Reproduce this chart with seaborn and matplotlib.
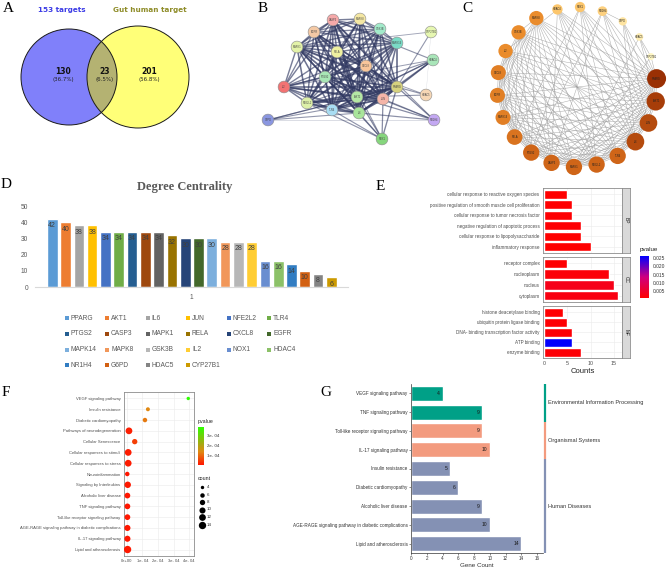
import numpy as np
import pandas as pd
import matplotlib
matplotlib.use("Agg")
import matplotlib.pyplot as plt
import seaborn as sns
from matplotlib.patches import Circle, Rectangle
from matplotlib.colors import LinearSegmentedColormap, Normalize
from matplotlib.cm import ScalarMappable

# ==============================
# DATA
# ==============================
venn_names = ["153 targets", "Gut human target"]
venn_counts = ["130", "23", "201"]
venn_pcts = ["(36.7%)", "(6.5%)", "(56.8%)"]

genes = ["PPARG", "AKT1", "IL6", "JUN", "NFE2L2", "TLR4", "PTGS2", "CASP3", "MAPK1", "RELA", "CXCL8",
         "EGFR", "MAPK14", "MAPK8", "GSK3B", "IL2", "NOX1", "HDAC4", "NR1H4", "G6PD", "HDAC5", "CYP27B1"]
degree = [42, 40, 38, 38, 34, 34, 34, 34, 34, 32, 30, 30, 30, 28, 28, 28, 16, 16, 14, 10, 8, 6]
excel_colors = ["#5B9BD5", "#ED7D31", "#A5A5A5", "#FFC000", "#4472C4", "#70AD47", "#255E91", "#9E480E",
                "#636363", "#997300", "#264478", "#43682B", "#7CAFDD", "#F1975A", "#B7B7B7", "#FFCD33",
                "#698ED0", "#8CC168", "#327DC2", "#D26012", "#848484", "#CC9A00"]

# STRING layout (exported node coordinates, figure px) and node colours
string_x = [397, 357, 359, 383, 307, 332, 325, 333, 297, 337, 366, 314, 397, 360, 380, 284, 382, 433, 434, 268, 426, 431]
string_y = [87, 97, 113, 99, 103, 110, 77, 20, 47, 52, 66, 32, 43, 19, 29, 87, 139, 60, 120, 120, 95, 32]
string_colors = ["#D6D27E", "#B5E8A4", "#A9E59B", "#F5B5A8", "#DDF0A8", "#A9DDF3", "#A8E6B5", "#F5A9A9",
                 "#E3F2A8", "#EEF0A0", "#F8C59A", "#F4C9A5", "#7ADBC6", "#F4E7A3", "#A3EBCB", "#F27373",
                 "#86D67D", "#A9E6B9", "#C3A8F2", "#8A96E0", "#F6D7B5", "#E6F7B1"]

# Cytoscape circular layout order (clockwise from PPARG)
circle_order = ["PPARG", "AKT1", "JUN", "IL6", "TLR4", "NFE2L2", "MAPK1", "CASP3", "PTGS2", "RELA", "MAPK14",
                "EGFR", "CXCL8", "IL2", "GSK3B", "MAPK8", "HDAC4", "NOX1", "NR1H4", "G6PD", "HDAC5", "CYP27B1"]

bp_terms = ["cellular response to reactive oxygen species", "positive regulation of smooth muscle cell proliferation",
            "cellular response to tumor necrosis factor", "negative regulation of apoptotic process",
            "cellular response to lipopolysaccharide", "inflammatory response"]
bp_counts = [5, 6, 6, 8, 8, 10]
bp_p = [0.0006, 0.0007, 0.0008, 0.0009, 0.0006, 0.0005]
cc_terms = ["receptor complex", "nucleoplasm", "nucleus", "cytoplasm"]
cc_counts = [5, 14, 15, 16]
cc_p = [0.0008, 0.0015, 0.0030, 0.0022]
mf_terms = ["histone deacetylase binding", "ubiquitin protein ligase binding",
            "DNA- binding transcription factor activity", "ATP binding", "enzyme binding"]
mf_counts = [4, 5, 6, 6, 8]
mf_p = [0.0007, 0.0009, 0.0011, 0.0262, 0.0012]

path_terms = ["VEGF signaling pathway", "Insulin resistance", "Diabetic cardiomyopathy",
              "Pathways of neurodegeneration", "Cellular Senescence", "Cellular responses to stimuli",
              "Cellular responses to stress", "Neuroinflammation", "Signaling by Interleukins",
              "Alcoholic liver disease", "TNF signaling pathway", "Toll-like receptor signaling pathway",
              "AGE-RAGE signaling pathway in diabetic complications", "IL-17 signaling pathway",
              "Lipid and atherosclerosis"]
path_p = [3.95e-4, 1.35e-4, 1.16e-4, 0.13e-4, 0.5e-4, 0.08e-4, 0.08e-4, 0.02e-4, 0.05e-4,
          0.03e-4, 0.03e-4, 0.03e-4, 0.03e-4, 0.03e-4, 0.04e-4]
path_count = [4, 5, 6, 12, 8, 12, 12, 6, 11, 9, 9, 9, 10, 10, 14]

kegg_terms = ["VEGF signaling pathway", "TNF signaling pathway", "Toll-like receptor signaling pathway",
              "IL-17 signaling pathway", "Insulin resistance", "Diabetic cardiomyopathy",
              "Alcoholic liver disease", "AGE-RAGE signaling pathway in diabetic complications",
              "Lipid and atherosclerosis"]
kegg_count = [4, 9, 9, 10, 5, 6, 9, 10, 14]
kegg_class = ["Environmental Information Processing"] * 2 + ["Organismal Systems"] * 2 + ["Human Diseases"] * 5
kegg_palette = {"Environmental Information Processing": "#00A087",
                "Organismal Systems": "#F39B7F",
                "Human Diseases": "#8491B4"}

# ==============================
# STYLE / HELPERS
# ==============================
sns.set_theme(style="white")
plt.rcParams["font.family"] = ["Liberation Sans", "DejaVu Sans"]
SERIF = "Liberation Serif"

W, H = 669, 568
fig = plt.figure(figsize=(W / 100, H / 100), dpi=100)

# overlay in pixel coordinates for the schematic panels
ov = fig.add_axes([0, 0, 1, 1])
ov.set_xlim(0, W)
ov.set_ylim(H, 0)
ov.axis("off")
ov.patch.set_alpha(0)


def px_axes(x0, y0, x1, y1):
    return fig.add_axes([x0 / W, 1 - y1 / H, (x1 - x0) / W, (y1 - y0) / H])


def havel_hakimi(names, deg):
    rem = dict(zip(names, deg))
    edges = []
    while True:
        order = sorted([n for n in names if rem[n] > 0], key=lambda n: (-rem[n], names.index(n)))
        if not order:
            break
        u = order[0]
        d = rem[u]
        rem[u] = 0
        for v in order[1:d + 1]:
            edges.append((u, v))
            rem[v] -= 1
    return edges


neighbours = [d // 2 for d in degree]
edges = havel_hakimi(genes, neighbours)
deg_of = dict(zip(genes, degree))

for lbl, x, y in [("A", 8, 9), ("B", 263, 8), ("C", 467, 8), ("D", 6, 185),
                  ("E", 380, 187), ("F", 6, 393), ("G", 326, 393)]:
    ov.text(x, y, lbl, fontsize=11, family=SERIF, ha="center", va="center", color="black")

# ==============================
# A. Venn
# ==============================
left = Circle((69, 77), 48, fc="#8080FA", ec="none")
right = Circle((138, 77), 51, fc="#FFFF78", ec="none")
ov.add_patch(left)
ov.add_patch(right)
mid = Circle((69, 77), 48, fc="#B4B272", ec="none")
ov.add_patch(mid)
mid.set_clip_path(right)
for c, r in [((69, 77), 48), ((138, 77), 51)]:
    ov.add_patch(Circle(c, r, fc="none", ec="#1a1a1a", lw=0.7))
ov.text(62, 10, venn_names[0], color="#3C3CE6", fontsize=5.2, weight="bold", ha="center", va="center",
        family="DejaVu Sans")
ov.text(150, 10, venn_names[1], color="#8E8C28", fontsize=5.2, weight="bold", ha="center", va="center",
        family="DejaVu Sans")
for x, n, p in zip([63, 105, 149], venn_counts, venn_pcts):
    ov.text(x, 71, n, fontsize=5.5, weight="bold", ha="center", va="center", family="DejaVu Sans", color="#111")
    ov.text(x, 79, p, fontsize=4, ha="center", va="center", family="DejaVu Sans", color="#222")

# ==============================
# B. STRING network
# ==============================
pos_b = {g: (x, y) for g, x, y in zip(genes, string_x, string_y)}
dmin, dmax = min(degree) * 2, max(degree) * 2
for u, v in edges:
    w = (deg_of[u] + deg_of[v] - dmin) / (dmax - dmin)
    (x1, y1), (x2, y2) = pos_b[u], pos_b[v]
    ov.plot([x1, x2], [y1, y2], color="#323A63", lw=0.2 + 1.2 * w, alpha=0.2 + 0.65 * w,
            solid_capstyle="round", zorder=2)
ov.scatter(string_x, string_y, s=72, c=string_colors, edgecolors="#8a8a8a", linewidths=0.4, zorder=3)
for g, x, y in zip(genes, string_x, string_y):
    ov.text(x, y, g, fontsize=1.8, ha="center", va="center", color="#444", zorder=4)

# ==============================
# C. Circular degree network
# ==============================
cx, cy, rad = 577, 87, 80
ang = np.deg2rad(6 - np.arange(len(circle_order)) * 360 / len(circle_order))
pos_c = {g: (cx + rad * np.cos(a), cy - rad * np.sin(a)) for g, a in zip(circle_order, ang)}
for u, v in edges:
    (x1, y1), (x2, y2) = pos_c[u], pos_c[v]
    ov.plot([x1, x2], [y1, y2], color="#9C9C9C", lw=0.35, alpha=0.85, zorder=2)
deg_cmap = LinearSegmentedColormap.from_list(
    "deg", [(0, "#FFF7C4"), (10 / 36, "#FCC66C"), (22 / 36, "#EA8C2C"), (28 / 36, "#D06618"), (1, "#9A3004")])
c_deg = np.array([deg_of[g] for g in circle_order])
c_x = [pos_c[g][0] for g in circle_order]
c_y = [pos_c[g][1] for g in circle_order]
diam = 7 + (c_deg - 6) / 36 * 12
ov.scatter(c_x, c_y, s=(diam * 0.72) ** 2, c=deg_cmap((c_deg - 6) / 36), edgecolors="none", zorder=3)
for g, x, y in zip(circle_order, c_x, c_y):
    ov.text(x, y, g, fontsize=1.8, ha="center", va="center", color="#222", zorder=4)

# ==============================
# D. Degree centrality
# ==============================
ax_d = px_axes(35, 206, 348, 287)
deg_df = pd.DataFrame({"gene": genes, "degree": degree})
sns.barplot(data=deg_df, x="gene", y="degree", hue="gene", palette=excel_colors, legend=False,
            width=0.8, saturation=1, ax=ax_d)
for cont in ax_d.containers:
    ax_d.bar_label(cont, padding=-7.5, fontsize=5, color="#404040")
ax_d.set_ylim(0, 50)
ax_d.set_xlim(-1.3, 22.25)
ax_d.set_yticks(range(0, 51, 10))
ax_d.set_xticks([10.5])
ax_d.set_xticklabels(["1"])
ax_d.tick_params(axis="both", length=0, labelsize=4.8, labelcolor="#595959", pad=5)
ax_d.set_xlabel("")
ax_d.set_ylabel("")
sns.despine(ax=ax_d, left=True)
ax_d.spines["bottom"].set_color("#D9D9D9")
ax_d.spines["bottom"].set_linewidth(0.8)
ov.text(185, 187, "Degree Centrality", family=SERIF, weight="bold", fontsize=9, color="#595959",
        ha="center", va="center")
for i, (g, col) in enumerate(zip(genes, excel_colors)):
    r, c = divmod(i, 6)
    x, y = 66.5 + 40.5 * c, 318 + 15.8 * r
    ov.add_patch(Rectangle((x - 2, y - 2), 4, 4, fc=col, ec="none"))
    ov.text(x + 4, y, g, fontsize=4.8, color="#595959", va="center", ha="left")

# ==============================
# E. GO enrichment
# ==============================
go_cmap = LinearSegmentedColormap.from_list("go", ["#FF0000", "#D0007E", "#0000FF"])
go_norm = Normalize(0.0005, 0.0265)
facets = [(bp_terms, bp_counts, bp_p, "BP", 188, 253),
          (cc_terms, cc_counts, cc_p, "CC", 257, 302),
          (mf_terms, mf_counts, mf_p, "MF", 306, 358)]
for terms, counts, pv, strip, y0, y1 in facets:
    ax = px_axes(543, y0, 622, y1)
    df = pd.DataFrame({"term": terms, "count": counts})
    sns.barplot(data=df, x="count", y="term", hue="term", palette=[go_cmap(go_norm(p)) for p in pv],
                legend=False, width=0.9, saturation=1, ax=ax, zorder=2)
    ax.set_xlim(-0.3, 16.8)
    ax.set_ylim(len(terms) - 0.4, -0.6)
    ax.set_xticks([0, 5, 10, 15])
    ax.grid(True, color="#EBEBEB", lw=0.4)
    ax.set_axisbelow(True)
    for s in ax.spines.values():
        s.set_color("#8C8C8C")
        s.set_linewidth(0.6)
    ax.tick_params(axis="y", labelsize=3.3, labelcolor="#4D4D4D", length=1.5, width=0.4, color="#4D4D4D", pad=1)
    ax.tick_params(axis="x", labelsize=3.8, labelcolor="#4D4D4D", length=1.5, width=0.4, color="#4D4D4D", pad=1)
    ax.set_ylabel("")
    if strip == "MF":
        ax.set_xlabel("Counts", fontsize=5.5, labelpad=1, color="#222")
    else:
        ax.set_xlabel("")
        ax.set_xticklabels([])
        ax.tick_params(axis="x", length=0)
    sax = px_axes(622, y0, 630, y1)
    sax.set_facecolor("#D9D9D9")
    sax.set_xticks([])
    sax.set_yticks([])
    for s in sax.spines.values():
        s.set_color("#8C8C8C")
        s.set_linewidth(0.6)
    sax.text(0.5, 0.5, strip, rotation=270, fontsize=3.5, ha="center", va="center", transform=sax.transAxes,
             color="#1a1a1a")

cax_e = px_axes(640, 256, 649, 298)
cb = fig.colorbar(ScalarMappable(norm=go_norm, cmap=go_cmap), cax=cax_e)
cb.set_ticks([0.005, 0.010, 0.015, 0.020, 0.025])
cb.set_ticklabels(["0.005", "0.010", "0.015", "0.020", "0.025"])
cb.ax.tick_params(labelsize=3.5, length=1.5, width=0.3, color="white", pad=1, labelcolor="#333")
cb.outline.set_visible(False)
ov.text(640, 250, "pvalue", fontsize=4.5, ha="left", va="center", color="#222")

# ==============================
# F. Pathway dot plot
# ==============================
ax_f = px_axes(124, 392, 194, 556)
dot_cmap = LinearSegmentedColormap.from_list(
    "dot", [(0, "#FF1500"), (0.35, "#E08A12"), (0.55, "#A8A812"), (1, "#2EFF00")])
dot_norm = Normalize(0, 3.9e-4)


def count_size(c):
    return 6 + (np.asarray(c) - 4) / 10 * 22


path_df = pd.DataFrame({"term": path_terms, "pvalue": path_p, "count": path_count})
sns.scatterplot(data=path_df, x="pvalue", y="term", hue="pvalue", palette=dot_cmap, hue_norm=dot_norm,
                size="count", sizes=(6, 28), size_norm=(4, 14), legend=False, linewidth=0, ax=ax_f, zorder=3)
ax_f.set_xlim(-0.19e-4, 4.32e-4)
ax_f.set_ylim(len(path_terms) - 0.4, -0.6)
ax_f.set_xticks([0, 1e-4, 2e-4, 3e-4, 4e-4])
ax_f.set_xticklabels(["0e+00", "1e- 04", "2e- 04", "3e- 04", "4e- 04"])
ax_f.grid(True, color="#EBEBEB", lw=0.4)
ax_f.set_axisbelow(True)
for s in ax_f.spines.values():
    s.set_color("#8C8C8C")
    s.set_linewidth(0.6)
ax_f.tick_params(axis="both", labelsize=3.0, labelcolor="#4D4D4D", length=1.5, width=0.4, color="#4D4D4D", pad=1)
ax_f.set_xlabel("")
ax_f.set_ylabel("")

cax_f = px_axes(198, 427, 204, 465)
cbf = fig.colorbar(ScalarMappable(norm=dot_norm, cmap=dot_cmap), cax=cax_f)
cbf.set_ticks([1e-4, 2e-4, 3e-4])
cbf.set_ticklabels(["1e- 04", "2e- 04", "3e- 04"])
cbf.ax.tick_params(labelsize=3.2, length=1.2, width=0.3, color="white", pad=1, labelcolor="#333")
cbf.outline.set_visible(False)
ov.text(198, 422, "pvalue", fontsize=3.8, ha="left", va="center", color="#222")
ov.text(198, 478, "count", fontsize=3.8, ha="left", va="center", color="#222")
legend_counts = [4, 6, 8, 10, 12, 14]
for i, c in enumerate(legend_counts):
    y = 487 + 7.5 * i
    ov.scatter([202], [y], s=count_size(c), color="black", linewidths=0)
    ov.text(207, y, str(c), fontsize=3.2, va="center", ha="left", color="#333")

# ==============================
# G. KEGG classification
# ==============================
ax_g = px_axes(411, 384, 543, 553)
kegg_df = pd.DataFrame({"term": kegg_terms, "count": kegg_count, "cls": kegg_class})
sns.barplot(data=kegg_df, x="count", y="term", hue="cls", palette=kegg_palette, dodge=False, legend=False,
            width=0.8, saturation=1, ax=ax_g)
for i, c in enumerate(kegg_count):
    ax_g.text(c - 0.3, i, str(c), fontsize=3.6, ha="right", va="center", color="#1a1a1a")
ax_g.set_xlim(0, 16.76)
ax_g.set_ylim(8.5, -0.5)
ax_g.set_xticks(range(0, 17, 2))
sns.despine(ax=ax_g)
for s in ["left", "bottom"]:
    ax_g.spines[s].set_color("#333333")
    ax_g.spines[s].set_linewidth(0.5)
ax_g.tick_params(axis="both", labelsize=3.3, labelcolor="#333", length=1.5, width=0.4, color="#333", pad=1,
                 left=True, bottom=True)
ax_g.set_xlabel("Gene Count", fontsize=4.5, labelpad=1, color="#333")
ax_g.set_ylabel("")

start = 0
for cls in ["Environmental Information Processing", "Organismal Systems", "Human Diseases"]:
    n = kegg_class.count(cls)
    ax_g.plot([17.05, 17.05], [start - 0.5, start + n - 0.5], color=kegg_palette[cls], lw=1.6,
              solid_capstyle="butt", clip_on=False)
    ax_g.text(17.4, start + (n - 1) / 2, cls, fontsize=4.1, color="#333", ha="left", va="center",
              clip_on=False)
    start += n

fig.savefig("out.png", dpi=100)
